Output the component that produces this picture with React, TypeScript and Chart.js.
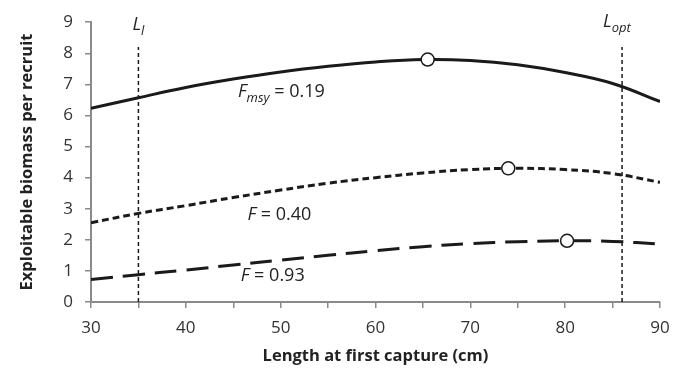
import React, { useEffect, useRef } from "react";
import { Chart, registerables } from "chart.js";

Chart.register(...registerables);

// Length at first capture (cm)
const lengths = [30, 35, 40, 45, 50, 55, 60, 65, 70, 75, 80, 85, 90];
// Exploitable biomass per recruit for each fishing mortality
const fmsyValues = [6.23, 6.57, 6.9, 7.17, 7.4, 7.58, 7.72, 7.8, 7.77, 7.63, 7.38, 7.03, 6.45];
const f040Values = [2.55, 2.85, 3.1, 3.36, 3.6, 3.82, 4.0, 4.15, 4.26, 4.3, 4.26, 4.13, 3.85];
const f093Values = [0.72, 0.88, 1.03, 1.19, 1.35, 1.5, 1.65, 1.78, 1.88, 1.94, 1.97, 1.95, 1.86];
// Optimum markers (x, y)
const optimumX = [65.5, 74, 80.2];
const optimumY = [7.8, 4.3, 1.97];
// Reference lengths
const lLimit = 35;
const lOpt = 86;
const refTop = 8.2;
const yTicks = [0, 1, 2, 3, 4, 5, 6, 7, 8, 9];

const toPts = (xs: number[], ys: number[]) => xs.map((x, i) => ({ x, y: ys[i] }));

const FONT = "'Open Sans', 'Noto Sans', sans-serif";

const labelPlugin = {
  id: "labels",
  afterDatasetsDraw(chart: any) {
    const { ctx } = chart;
    const xs = chart.scales.x;
    const ys = chart.scales.y;
    ctx.save();
    ctx.fillStyle = "#222";
    ctx.textBaseline = "alphabetic";
    ctx.textAlign = "left";
    const drawParts = (x: number, y: number, parts: { t: string; italic?: boolean; sub?: boolean }[]) => {
      let cx = x;
      for (const p of parts) {
        const size = p.sub ? 13 : 18;
        ctx.font = `${p.italic ? "italic " : ""}${size}px ${FONT}`;
        ctx.fillText(p.t, cx, p.sub ? y + 5 : y);
        cx += ctx.measureText(p.t).width;
      }
    };
    // curve labels (data coordinates)
    drawParts(xs.getPixelForValue(45.5), ys.getPixelForValue(6.6), [
      { t: "F", italic: true },
      { t: "msy", italic: true, sub: true },
      { t: " = 0.19" },
    ]);
    drawParts(xs.getPixelForValue(46.5), ys.getPixelForValue(2.64), [
      { t: "F", italic: true },
      { t: " = 0.40" },
    ]);
    drawParts(xs.getPixelForValue(45.8), ys.getPixelForValue(0.66), [
      { t: "F", italic: true },
      { t: " = 0.93" },
    ]);
    // reference line labels
    drawParts(xs.getPixelForValue(lLimit) - 6, ys.getPixelForValue(8.75), [
      { t: "L", italic: true },
      { t: "l", italic: true, sub: true },
    ]);
    drawParts(xs.getPixelForValue(lOpt) - 19, ys.getPixelForValue(8.85), [
      { t: "L", italic: true },
      { t: "opt", italic: true, sub: true },
    ]);
    ctx.restore();
  },
};

export default function App() {
  const ref = useRef<HTMLCanvasElement>(null);
  useEffect(() => {
    if (!ref.current) return;
    const axisColor = "#8a8a8a";
    const chart = new Chart(ref.current, {
      type: "line",
      data: {
        datasets: [
          {
            type: "scatter",
            data: toPts(optimumX, optimumY),
            pointRadius: 6.5,
            pointBackgroundColor: "#ffffff",
            pointBorderColor: "#1a1a1a",
            pointBorderWidth: 1.5,
            showLine: false,
          } as any,
          {
            data: toPts(lengths, fmsyValues),
            borderColor: "#1a1a1a",
            borderWidth: 3,
            pointRadius: 0,
            tension: 0.4,
          },
          {
            data: toPts(lengths, f040Values),
            borderColor: "#1a1a1a",
            borderWidth: 3,
            borderDash: [7, 4],
            pointRadius: 0,
            tension: 0.4,
          },
          {
            data: toPts(lengths, f093Values),
            borderColor: "#1a1a1a",
            borderWidth: 3,
            borderDash: [22, 10],
            pointRadius: 0,
            tension: 0.4,
          },
          {
            data: [
              { x: lLimit, y: 0 },
              { x: lLimit, y: refTop },
            ],
            borderColor: "#1a1a1a",
            borderWidth: 1.5,
            borderDash: [4, 3],
            pointRadius: 0,
          },
          {
            data: [
              { x: lOpt, y: 0 },
              { x: lOpt, y: refTop },
            ],
            borderColor: "#1a1a1a",
            borderWidth: 1.5,
            borderDash: [4, 3],
            pointRadius: 0,
          },
        ],
      },
      options: {
        responsive: false,
        animation: false,
        layout: { padding: { top: 20, right: 21, left: 17, bottom: 3 } },
        plugins: { legend: { display: false }, tooltip: { enabled: false } },
        scales: {
          x: {
            type: "linear",
            min: 30,
            max: 90,
            afterFit: (s: any) => {
              s.height = 64;
            },
            ticks: {
              stepSize: 5,
              autoSkip: false,
              maxRotation: 0,
              padding: 10,
              color: "#333",
              font: { family: FONT, size: 17 },
              callback: (v: any) => (Number(v) % 10 === 0 ? String(v) : ""),
            },
            grid: {
              drawOnChartArea: false,
              drawTicks: true,
              tickLength: 6,
              color: axisColor,
              lineWidth: 1.5,
            },
            border: { color: axisColor, width: 2 },
            title: {
              display: true,
              text: "Length at first capture (cm)",
              color: "#222",
              font: { family: FONT, size: 16.5, weight: "bold" },
              padding: { top: 0, bottom: 0 },
            },
          },
          y: {
            type: "linear",
            min: 0,
            max: 9,
            afterFit: (s: any) => {
              s.width = 74;
            },
            afterBuildTicks: (s: any) => {
              s.ticks = yTicks.map((v) => ({ value: v }));
            },
            ticks: {
              stepSize: 1,
              padding: 12,
              color: "#333",
              font: { family: FONT, size: 17 },
            },
            grid: {
              drawOnChartArea: false,
              drawTicks: true,
              tickLength: 6,
              color: axisColor,
              lineWidth: 1.5,
            },
            border: { color: axisColor, width: 2 },
            title: {
              display: true,
              text: "Exploitable biomass per recruit",
              color: "#222",
              font: { family: FONT, size: 16.5, weight: "bold" },
              padding: { top: 0, bottom: 0 },
            },
          },
        },
      },
      plugins: [labelPlugin],
    });
    return () => chart.destroy();
  }, []);
  return (
    <div style={{ position: "fixed", left: 0, top: 0, width: 681, height: 369, background: "#fff" }}>
      <canvas ref={ref} width={681} height={369} />
    </div>
  );
}
